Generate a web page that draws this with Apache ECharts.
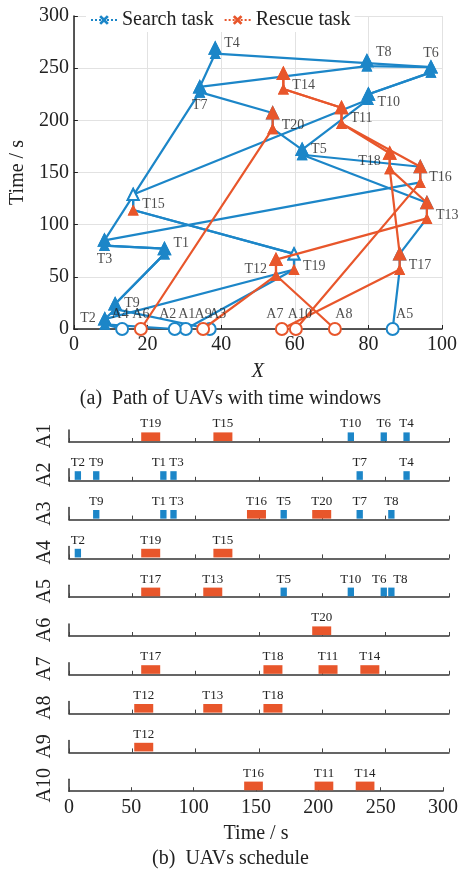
<!DOCTYPE html>
<html>
<head>
<meta charset="utf-8">
<script src="https://cdn.jsdelivr.net/npm/echarts@6/dist/echarts.min.js"></script>
<style>
  html, body { margin: 0; padding: 0; background: #fff; }
  #main { width: 461px; height: 872px; }
</style>
</head>
<body>
<div id="main"></div>
<script>
// UAVs: A1-A5 search UAVs (blue), A6-A10 rescue UAVs (orange)
const uavNames = ['A1', 'A2', 'A3', 'A4', 'A5', 'A6', 'A7', 'A8', 'A9', 'A10'];
const uavStartX = [30.4, 27.4, 36.9, 13.1, 86.6, 18.2, 56.5, 70.9, 35.1, 60.3];
// task numbers visited by each UAV, in order
const uavRoutes = [
  [19, 15, 10, 6, 4],
  [2, 9, 1, 3, 7, 4],
  [9, 1, 3, 16, 5, 20, 7, 8],
  [2, 19, 15],
  [17, 13, 5, 10, 6, 8],
  [20],
  [17, 18, 11, 14],
  [12, 13, 18],
  [12],
  [16, 11, 14]
];
// T1-T10 search tasks, T11-T20 rescue tasks
const taskNames = ['T1', 'T2', 'T3', 'T4', 'T5', 'T6', 'T7', 'T8', 'T9', 'T10',
  'T11', 'T12', 'T13', 'T14', 'T15', 'T16', 'T17', 'T18', 'T19', 'T20'];
const taskX = [24.6, 8.4, 8.3, 38.4, 62, 97, 34.2, 79.6, 11.2, 80,
  72.7, 54.9, 95.9, 56.9, 16.1, 94.1, 88.5, 85.8, 59.8, 54];
const taskStart = [72, 4.5, 80, 264, 167, 246, 227, 252, 19, 220,
  197, 51.5, 106, 230, 114, 140.5, 57, 153.5, 57, 192];
const taskEnd = [77, 9.5, 85, 269, 172, 251, 232, 257, 24, 225,
  212, 66.5, 121, 245, 129, 155.5, 72, 168.5, 72, 207];

// label placement (style only)
const taskLabelPlace = [
  ['right', -8], ['left', -3], ['bottom', 0], ['right', -8], ['right', -3],
  ['top', 0], ['bottom', 0], ['right', -11], ['right', -3], ['right', 5],
  ['right', 3], ['left', 2], ['right', 5], ['right', 4], ['right', 2],
  ['right', 3], ['right', 4], ['left', 0], ['right', 5], ['right', 4]
];
const uavLabelDx = [1, -7, 8, -2, 12, 0, -7, 9, 0, 4];

const BLUE = '#1c86c8';
const ORANGE = '#e8562b';
const FONT = '"Liberation Serif", "DejaVu Serif", serif';
const TXT = '#222';
const CLEAR = 'rgba(0,0,0,0)';

const chart = echarts.init(document.getElementById('main'));

// ---------- (a) path chart ----------
const grids = [{ left: 68, right: 19, top: 16, height: 313 }];
const xAxes = [{
  gridIndex: 0, type: 'value', min: 0, max: 100, interval: 20,
  name: 'X', nameLocation: 'middle', nameGap: 33,
  nameTextStyle: { fontFamily: FONT, fontSize: 20, fontStyle: 'italic', color: TXT },
  axisLine: { lineStyle: { color: '#222', width: 1.5 } },
  axisTick: { inside: true, length: 4, lineStyle: { color: '#222' } },
  axisLabel: { fontFamily: FONT, fontSize: 20, color: TXT, margin: 6 },
  splitLine: { show: true, lineStyle: { color: '#e2e2e2', width: 1 } }
}];
const yAxes = [{
  gridIndex: 0, type: 'value', min: 0, max: 300, interval: 50,
  name: 'Time / s', nameLocation: 'middle', nameGap: 44, nameRotate: 90,
  nameTextStyle: { fontFamily: FONT, fontSize: 20, color: TXT },
  axisLine: { show: true, lineStyle: { color: '#222', width: 1.5 } },
  axisTick: { show: true, inside: true, length: 4, lineStyle: { color: '#222' } },
  axisLabel: { fontFamily: FONT, fontSize: 20, color: TXT, margin: 5 },
  splitLine: { show: true, lineStyle: { color: '#e2e2e2', width: 1 } }
}];

const series = [];

uavNames.forEach((u, i) => {
  const col = i < 5 ? BLUE : ORANGE;
  const data = [{
    value: [uavStartX[i], 0], symbol: 'emptyCircle', symbolSize: 12,
    itemStyle: { color: col, borderColor: col, borderWidth: 2 }
  }];
  uavRoutes[i].forEach(t => {
    const k = t - 1;
    const rescue = k >= 10;
    data.push({ value: [taskX[k], taskStart[k]], itemStyle: { color: rescue ? ORANGE : col } });
    data.push({
      value: [taskX[k], taskEnd[k]],
      symbol: rescue && i < 5 ? 'emptyTriangle' : 'triangle',
      itemStyle: { color: col, borderColor: col, borderWidth: 2 }
    });
  });
  series.push({
    type: 'line', name: u, xAxisIndex: 0, yAxisIndex: 0, data,
    symbol: 'triangle', symbolSize: 11, showAllSymbol: true, clip: false,
    lineStyle: { color: col, width: 2.2 }, itemStyle: { color: col },
    z: i < 5 ? 3 : 4, silent: true, animation: false
  });
});

// task labels
series.push({
  type: 'scatter', xAxisIndex: 0, yAxisIndex: 0, symbolSize: 14,
  itemStyle: { color: CLEAR }, silent: true, z: 6,
  data: taskNames.map((n, k) => ({
    value: [taskX[k], (taskStart[k] + taskEnd[k]) / 2],
    label: { position: taskLabelPlace[k][0], offset: [0, taskLabelPlace[k][1]] }
  })),
  label: {
    show: true, distance: 2, fontFamily: FONT, fontSize: 14, color: TXT,
    formatter: p => taskNames[p.dataIndex]
  }
});
// UAV start labels
series.push({
  type: 'scatter', xAxisIndex: 0, yAxisIndex: 0, symbolSize: 12, clip: false,
  itemStyle: { color: CLEAR }, silent: true, z: 6,
  data: uavNames.map((n, i) => ({
    value: [uavStartX[i], 0], label: { offset: [uavLabelDx[i], 0] }
  })),
  label: {
    show: true, position: 'top', distance: 2, fontFamily: FONT, fontSize: 14, color: TXT,
    formatter: p => uavNames[p.dataIndex]
  }
});
// legend entries
const xMark = 'path://M2,0 L5,3 L8,0 L10,2 L7,5 L10,8 L8,10 L5,7 L2,10 L0,8 L3,5 L0,2 Z';
[['Search task', BLUE], ['Rescue task', ORANGE]].forEach(([n, c]) => {
  series.push({
    type: 'line', name: n, xAxisIndex: 0, yAxisIndex: 0, data: [],
    symbol: xMark, symbolSize: 12, itemStyle: { color: c },
    lineStyle: { color: c, width: 3, type: 'dotted' }
  });
});

// ---------- (b) schedule chart ----------
const rowBase = 442, rowStep = 38.8, rowH = 12;
uavNames.forEach((u, i) => {
  const g = i + 1;
  const last = i === uavNames.length - 1;
  const route = uavRoutes[i];
  grids.push({ left: 69, right: 12, top: rowBase + rowStep * i - rowH, height: rowH });
  xAxes.push({
    gridIndex: g, type: 'value', min: 0, max: 300, interval: 50,
    name: last ? 'Time / s' : '', nameLocation: 'middle', nameGap: 33,
    nameTextStyle: { fontFamily: FONT, fontSize: 20, color: TXT },
    axisLine: { lineStyle: { color: '#333', width: 1.5 } },
    axisTick: { inside: true, length: 4, lineStyle: { color: '#444' } },
    axisLabel: { show: last, fontFamily: FONT, fontSize: 20, color: TXT, margin: 7 },
    splitLine: { show: false }
  });
  yAxes.push({
    gridIndex: g, type: 'value', min: 0, max: 1,
    name: u, nameLocation: 'middle', nameGap: 14, nameRotate: 90,
    nameTextStyle: { fontFamily: FONT, fontSize: 20, color: TXT },
    axisLine: { show: true, lineStyle: { color: '#333', width: 1.5 } },
    axisTick: { show: false }, axisLabel: { show: false }, splitLine: { show: false }
  });
  series.push({
    type: 'custom', xAxisIndex: g, yAxisIndex: g, silent: true, clip: false,
    data: route.map(t => [taskStart[t - 1], taskEnd[t - 1], t - 1]),
    renderItem: (params, api) => {
      const k = api.value(2);
      const j = params.dataIndex;
      // push apart labels of tasks that sit close together
      let dx = 0;
      if (j + 1 < route.length && taskStart[route[j + 1] - 1] - taskEnd[k] < 8) dx -= 4.5;
      if (j > 0 && taskStart[k] - taskEnd[route[j - 1] - 1] < 8) dx += taskStart[k] - taskEnd[route[j - 1] - 1] < 2 ? 9 : 3;
      const a = api.coord([api.value(0), 0.08]);
      const b = api.coord([api.value(1), 0.8]);
      return {
        type: 'rect',
        shape: { x: a[0], y: b[1], width: b[0] - a[0], height: a[1] - b[1] },
        style: { fill: k < 10 ? BLUE : ORANGE },
        textContent: { style: { text: taskNames[k], font: '13px ' + FONT, fill: TXT } },
        textConfig: { position: 'top', distance: 2, offset: [dx, 0] }
      };
    }
  });
});

chart.setOption({
  animation: false,
  backgroundColor: '#fff',
  grid: grids,
  xAxis: xAxes,
  yAxis: yAxes,
  legend: {
    data: ['Search task', 'Rescue task'],
    left: 86, top: 8, padding: [2, 4], itemGap: 10,
    itemWidth: 26, itemHeight: 12,
    backgroundColor: '#fff',
    textStyle: { fontFamily: FONT, fontSize: 20, color: TXT }
  },
  graphic: [
    { type: 'text', left: 'center', top: 389, style: { text: '(a)  Path of UAVs with time windows', font: '20px ' + FONT, fill: TXT } },
    { type: 'text', left: 'center', top: 849, style: { text: '(b)  UAVs schedule', font: '20px ' + FONT, fill: TXT } }
  ],
  series
});
</script>
</body>
</html>
